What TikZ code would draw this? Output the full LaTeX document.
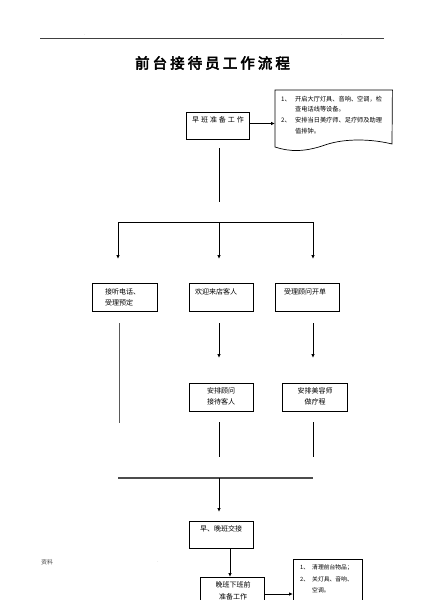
\documentclass[tikz,border=0pt]{standalone}
\usepackage{fontspec}
\newfontfamily\cjk{Noto Sans CJK SC}
\newfontfamily\cjktitle[FakeBold=3.5,LetterSpace=21]{Noto Sans CJK SC}
\newfontfamily\cjkwide[LetterSpace=28]{Noto Sans CJK SC}
\usetikzlibrary{arrows.meta}
\begin{document}
\begin{tikzpicture}[x=1pt,y=-1pt,
  box/.style={draw=black, line width=0.8pt, inner sep=0pt},
  txt/.style={inner sep=0pt, font=\cjk\fontsize{7}{8}\selectfont},
  ntxt/.style={inner sep=0pt, anchor=west, font=\cjk\fontsize{6.2}{7}\selectfont},
  ln/.style={line width=0.8pt},
  arr/.style={line width=0.8pt, -{Latex[length=4pt,width=3.5pt]}},
]
\useasboundingbox (0,0) rectangle (423,600);
\fill[white] (0,0) rectangle (423,600);

% header
\coordinate (hl1) at (40,38);
\coordinate (hl2) at (384,38);
\draw[gray!50!black, line width=0.9pt] (hl1) -- (hl2);
\node[inner sep=0pt, text=gray, font=\cjk\fontsize{4}{4}\selectfont] (hm1) at (85,35) {.};
\node[inner sep=0pt, text=gray, font=\cjk\fontsize{4}{4}\selectfont] (hm2) at (342,35) {.};

% title
\node[inner sep=0pt, font=\cjktitle\fontsize{14.5}{15}\selectfont] (title) at (212.5,63) {前台接待员工作流程};

% first box and note
\node[box, minimum width=63pt, minimum height=27pt] (b1) at (217.5,125.5) {};
\node[inner sep=0pt, font=\cjkwide\fontsize{7}{8}\selectfont] (b1t) at (218,120) {早班准备工作};

\node[inner sep=0pt, minimum width=117pt, minimum height=57pt, anchor=north west] (n1) at (275,90) {};
\draw[line width=0.7pt] (n1.north west) -- (n1.north east) -- (392,144)
  .. controls (372,139) and (345,138) .. (325,145)
  .. controls (305,152) and (290,152) .. (275,147) -- cycle;
\node[ntxt] (n1a) at (281,99) {1、};
\node[ntxt] (n1b) at (295,99) {开启大厅灯具、音响、空调，检};
\node[ntxt] (n1c) at (295,109.5) {查电话线等设备。};
\node[ntxt] (n1d) at (281,120.5) {2、};
\node[ntxt] (n1e) at (295,120.5) {安排当日美疗师、足疗师及助理};
\node[ntxt] (n1f) at (295,131) {值排钟。};
\draw[arr] (b1.east |- 0,123.5) -- (n1.west |- 0,123.5);

% branching
\coordinate (v1a) at (219,148);
\coordinate (v1b) at (219,202);
\draw[ln] (v1a) -- (v1b);
\coordinate (hb1) at (118,222);
\coordinate (hb2) at (219,222);
\coordinate (hb3) at (313,222);
\draw[ln] (hb1) -- (hb3);
\coordinate (ab1) at (118,259);
\coordinate (ab2) at (219,259);
\coordinate (ab3) at (313,259);
\draw[arr] (hb1) -- (ab1);
\draw[arr] (hb2) -- (ab2);
\draw[arr] (hb3) -- (ab3);

% second row
\node[box, minimum width=65pt, minimum height=28pt] (r1) at (124.5,297) {};
\node[box, minimum width=64pt, minimum height=28pt] (r2) at (221,297) {};
\node[box, minimum width=64pt, minimum height=28pt] (r3) at (307,297) {};
\node[txt, anchor=west] (r1a) at (105,292) {接听电话、};
\node[txt, anchor=west] (r1b) at (105,303) {受理预定};
\node[txt, anchor=west] (r2a) at (195,292) {欢迎来店客人};
\node[txt, anchor=west] (r3a) at (284,292) {受理顾问开单};

% connectors below row 2
\coordinate (l1a) at (119,323);
\coordinate (l1b) at (119,423);
\draw[ln, draw=gray!70!black] (l1a) -- (l1b);
\coordinate (m2a) at (219,323);
\coordinate (m2b) at (219,358);
\coordinate (m3a) at (313,323);
\coordinate (m3b) at (313,358);
\draw[arr] (m2a) -- (m2b);
\draw[arr] (m3a) -- (m3b);

% third row
\node[box, minimum width=64pt, minimum height=28pt] (s2) at (221,397) {};
\node[box, minimum width=65pt, minimum height=28pt] (s3) at (314.5,397) {};
\node[txt] (s2a) at (221,390.5) {安排顾问};
\node[txt] (s2b) at (221,402) {接待客人};
\node[txt] (s3a) at (315,390.5) {安排美容师};
\node[txt] (s3b) at (315,402) {做疗程};

\coordinate (q2a) at (219,422);
\coordinate (q2b) at (219,457);
\coordinate (q3a) at (313,422);
\coordinate (q3b) at (313,457);
\draw[ln] (q2a) -- (q2b);
\draw[ln] (q3a) -- (q3b);

% merge
\coordinate (mg1) at (118,478);
\coordinate (mg2) at (313,478);
\coordinate (mgc) at (219,478);
\coordinate (mgd) at (219,512);
\draw[line width=1.1pt, draw=gray!60!black] (mg1) -- (mg2);
\draw[arr] (mgc) -- (mgd);

% handover
\node[box, minimum width=64pt, minimum height=27pt] (h) at (221,534.5) {};
\node[txt, anchor=west] (ht) at (200,529) {早、晚班交接};
\node[box, minimum width=64pt, minimum height=36pt, anchor=north west] (w) at (200,577) {};
\node[txt] (wa) at (233,585) {晚班下班前};
\node[txt] (wb) at (233,597) {准备工作};
\draw[arr] (h.south -| 230,0) -- (w.north -| 230,0);

\node[box, minimum width=69pt, minimum height=50pt, anchor=north west] (n2) at (293,559) {};
\node[ntxt, font=\cjk\fontsize{5.8}{7}\selectfont] (n2a) at (300,568) {1、};
\node[ntxt, font=\cjk\fontsize{5.8}{7}\selectfont] (n2b) at (312,568) {清理前台物品；};
\node[ntxt, font=\cjk\fontsize{5.8}{7}\selectfont] (n2c) at (300,579.5) {2、};
\node[ntxt, font=\cjk\fontsize{5.8}{7}\selectfont] (n2d) at (312,579.5) {关灯具、音响、};
\node[ntxt, font=\cjk\fontsize{5.8}{7}\selectfont] (n2e) at (312,590) {空调。};
\draw[arr] (w.east |- 0,594) -- (n2.west |- 0,594);

% footer
\node[txt, text=gray!60!black, font=\cjk\fontsize{6}{7}\selectfont] (ft) at (47,562) {资料};
\node[inner sep=0pt, text=gray, font=\cjk\fontsize{4}{4}\selectfont] (ft2) at (158,562) {.};
\end{tikzpicture}
\end{document}
